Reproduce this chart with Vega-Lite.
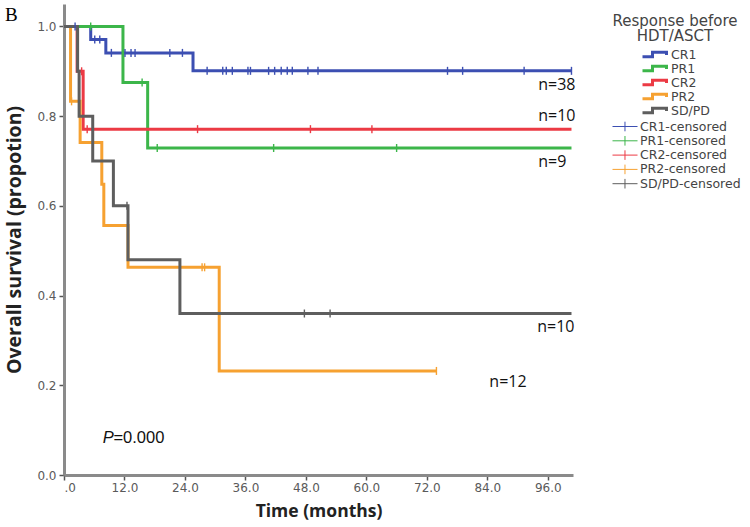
{
  "$schema": "https://vega.github.io/schema/vega-lite/v6.json",
  "width": 509,
  "height": 471,
  "autosize": {"type": "none"},
  "padding": {"left": 64, "top": 4, "right": 177, "bottom": 52},
  "background": "white",
  "config": {
    "view": {"stroke": null},
    "axis": {"domainColor": "#8a8a8a", "domainWidth": 3, "tickColor": "#555", "tickWidth": 1.5, "tickSize": 5, "labelFont": "DejaVu Sans", "labelFontSize": 12, "labelColor": "#5a5a5a", "titleFont": "Open Sans", "titleFontWeight": "bold", "titleFontSize": 17.5, "titleColor": "#222", "grid": false},
    "legend": {"titleFont": "DejaVu Sans", "titleFontSize": 15, "titleFontWeight": "normal", "titleColor": "#444", "titleLineHeight": 14.5, "titlePadding": 4, "labelFont": "DejaVu Sans", "labelFontSize": 12.5, "labelColor": "#444", "padding": 0}
  },
  "datasets": {
    "curves": [
      {"g": "CR1", "t": 0, "s": 1}, {"g": "CR1", "t": 5.3, "s": 0.971}, {"g": "CR1", "t": 8.3, "s": 0.941}, {"g": "CR1", "t": 25.6, "s": 0.901}, {"g": "CR1", "t": 100.7, "s": 0.901},
      {"g": "PR1", "t": 0, "s": 1}, {"g": "PR1", "t": 11.7, "s": 0.875}, {"g": "PR1", "t": 16.6, "s": 0.729}, {"g": "PR1", "t": 100.7, "s": 0.729},
      {"g": "CR2", "t": 0, "s": 1}, {"g": "CR2", "t": 2.6, "s": 0.9}, {"g": "CR2", "t": 3.8, "s": 0.771}, {"g": "CR2", "t": 100.7, "s": 0.771},
      {"g": "PR2", "t": 0, "s": 1}, {"g": "PR2", "t": 1.3, "s": 0.833}, {"g": "PR2", "t": 3.2, "s": 0.741}, {"g": "PR2", "t": 7.5, "s": 0.648}, {"g": "PR2", "t": 7.9, "s": 0.556}, {"g": "PR2", "t": 12.7, "s": 0.463}, {"g": "PR2", "t": 30.8, "s": 0.232}, {"g": "PR2", "t": 73.9, "s": 0.232},
      {"g": "SD/PD", "t": 0, "s": 1}, {"g": "SD/PD", "t": 2.7, "s": 0.9}, {"g": "SD/PD", "t": 3.0, "s": 0.8}, {"g": "SD/PD", "t": 5.7, "s": 0.7}, {"g": "SD/PD", "t": 9.8, "s": 0.6}, {"g": "SD/PD", "t": 12.7, "s": 0.48}, {"g": "SD/PD", "t": 23.0, "s": 0.36}, {"g": "SD/PD", "t": 100.7, "s": 0.36}
    ],
    "censored": [
      {"c": "CR1-censored", "t": 2.2, "s": 1}, {"c": "CR1-censored", "t": 6.1, "s": 0.971}, {"c": "CR1-censored", "t": 7.1, "s": 0.971},
      {"c": "CR1-censored", "t": 9.4, "s": 0.941}, {"c": "CR1-censored", "t": 12.1, "s": 0.941}, {"c": "CR1-censored", "t": 13.3, "s": 0.941}, {"c": "CR1-censored", "t": 14.1, "s": 0.941}, {"c": "CR1-censored", "t": 21.0, "s": 0.941}, {"c": "CR1-censored", "t": 23.5, "s": 0.941},
      {"c": "CR1-censored", "t": 28.4, "s": 0.901}, {"c": "CR1-censored", "t": 31.5, "s": 0.901}, {"c": "CR1-censored", "t": 32.2, "s": 0.901}, {"c": "CR1-censored", "t": 33.4, "s": 0.901}, {"c": "CR1-censored", "t": 36.5, "s": 0.901}, {"c": "CR1-censored", "t": 37.0, "s": 0.901}, {"c": "CR1-censored", "t": 40.6, "s": 0.901}, {"c": "CR1-censored", "t": 41.8, "s": 0.901}, {"c": "CR1-censored", "t": 43.1, "s": 0.901}, {"c": "CR1-censored", "t": 44.3, "s": 0.901}, {"c": "CR1-censored", "t": 45.3, "s": 0.901}, {"c": "CR1-censored", "t": 48.4, "s": 0.901}, {"c": "CR1-censored", "t": 50.4, "s": 0.901}, {"c": "CR1-censored", "t": 76.1, "s": 0.901}, {"c": "CR1-censored", "t": 79.1, "s": 0.901}, {"c": "CR1-censored", "t": 91.3, "s": 0.901}, {"c": "CR1-censored", "t": 100.7, "s": 0.901},
      {"c": "PR1-censored", "t": 5.3, "s": 1}, {"c": "PR1-censored", "t": 15.5, "s": 0.875}, {"c": "PR1-censored", "t": 18.5, "s": 0.729}, {"c": "PR1-censored", "t": 41.6, "s": 0.729}, {"c": "PR1-censored", "t": 66.0, "s": 0.729},
      {"c": "CR2-censored", "t": 3.5, "s": 0.9}, {"c": "CR2-censored", "t": 4.6, "s": 0.771}, {"c": "CR2-censored", "t": 26.5, "s": 0.771}, {"c": "CR2-censored", "t": 48.9, "s": 0.771}, {"c": "CR2-censored", "t": 61.1, "s": 0.771},
      {"c": "PR2-censored", "t": 1.5, "s": 0.833}, {"c": "PR2-censored", "t": 27.4, "s": 0.463}, {"c": "PR2-censored", "t": 27.9, "s": 0.463}, {"c": "PR2-censored", "t": 73.9, "s": 0.232},
      {"c": "SD/PD-censored", "t": 12.5, "s": 0.6}, {"c": "SD/PD-censored", "t": 47.7, "s": 0.36}, {"c": "SD/PD-censored", "t": 52.8, "s": 0.36}
    ],
    "nlabels": [
      {"label": "n=38", "t": 94.1, "s": 0.869},
      {"label": "n=10", "t": 94.1, "s": 0.80},
      {"label": "n=9", "t": 94.1, "s": 0.698},
      {"label": "n=10", "t": 93.9, "s": 0.330},
      {"label": "n=12", "t": 84.4, "s": 0.207}
    ],
    "panel": [{"label": "B", "t": -11.7, "s": 1.012}],
    "pP": [{"label": "P", "t": 7.7, "s": 0.0824}],
    "pV": [{"label": "=0.000", "t": 9.8, "s": 0.0824}]
  },
  "layer": [
    {
      "data": {"name": "curves"},
      "mark": {"type": "line", "interpolate": "step-after", "strokeWidth": 3},
      "encoding": {
        "x": {"field": "t", "type": "quantitative", "scale": {"domain": [0, 101], "nice": false, "zero": false},
              "axis": {"title": "Time (months)", "values": [0, 12, 24, 36, 48, 60, 72, 84, 96], "labelExpr": "datum.value == 0 ? '.0' : format(datum.value, '.1f')", "labelPadding": 2, "titlePadding": 9}},
        "y": {"field": "s", "type": "quantitative", "scale": {"domain": [0, 1.05], "nice": false},
              "axis": {"title": "Overall survival (propotion)", "titleFontSize": 19.5, "values": [0, 0.2, 0.4, 0.6, 0.8, 1.0], "format": ".1f", "labelPadding": 3, "titlePadding": 12}},
        "color": {"field": "g", "type": "nominal",
                  "scale": {"domain": ["CR1", "PR1", "CR2", "PR2", "SD/PD"], "range": ["#3c4fb2", "#3cb64a", "#ec3a44", "#f6a131", "#5e5e5e"]},
                  "legend": {"title": ["Response before", "HDT/ASCT"], "orient": "none", "legendX": 548, "legendY": 10, "direction": "vertical", "titleAnchor": "middle", "titleAlign": "center", "symbolType": "M-1,0.45L1,0.45L1,-0.45L3.8,-0.45L3.8,0.1", "symbolSize": 100, "symbolStrokeWidth": 3, "labelOffset": 17, "clipHeight": 14, "rowPadding": 0}}
      }
    },
    {
      "data": {"name": "censored"},
      "mark": {"type": "point", "shape": "M0,-1L0,1", "size": 64, "strokeWidth": 1.4, "filled": false, "opacity": 1},
      "encoding": {
        "x": {"field": "t", "type": "quantitative"},
        "y": {"field": "s", "type": "quantitative"},
        "color": {"field": "c", "type": "nominal",
                  "scale": {"domain": ["CR1-censored", "PR1-censored", "CR2-censored", "PR2-censored", "SD/PD-censored"], "range": ["#3c4fb2", "#3cb64a", "#ec3a44", "#f6a131", "#5e5e5e"]},
                  "legend": {"title": null, "orient": "none", "legendX": 548, "legendY": 116, "direction": "vertical", "symbolType": "M-1,0L3.17,0M1.08,-0.8L1.08,0.8", "symbolSize": 144, "symbolStrokeWidth": 1, "labelOffset": 15, "rowPadding": -0.7}}
      }
    },
    {
      "data": {"name": "nlabels"},
      "mark": {"type": "text", "align": "left", "baseline": "middle", "font": "Open Sans", "fontSize": 16, "color": "#111"},
      "encoding": {
        "x": {"field": "t", "type": "quantitative"},
        "y": {"field": "s", "type": "quantitative"},
        "text": {"field": "label"}
      }
    },
    {
      "data": {"name": "panel"},
      "mark": {"type": "text", "align": "left", "baseline": "alphabetic", "font": "Liberation Serif", "fontSize": 19, "color": "#000"},
      "encoding": {
        "x": {"field": "t", "type": "quantitative"},
        "y": {"field": "s", "type": "quantitative"},
        "text": {"field": "label"}
      }
    },
    {
      "data": {"name": "pP"},
      "mark": {"type": "text", "align": "left", "baseline": "middle", "font": "Liberation Sans", "fontSize": 16.5, "fontStyle": "italic", "color": "#111"},
      "encoding": {
        "x": {"field": "t", "type": "quantitative"},
        "y": {"field": "s", "type": "quantitative"},
        "text": {"field": "label"}
      }
    },
    {
      "data": {"name": "pV"},
      "mark": {"type": "text", "align": "left", "baseline": "middle", "font": "Liberation Sans", "fontSize": 16.5, "color": "#111"},
      "encoding": {
        "x": {"field": "t", "type": "quantitative"},
        "y": {"field": "s", "type": "quantitative"},
        "text": {"field": "label"}
      }
    }
  ],
  "resolve": {"scale": {"color": "independent"}}
}
